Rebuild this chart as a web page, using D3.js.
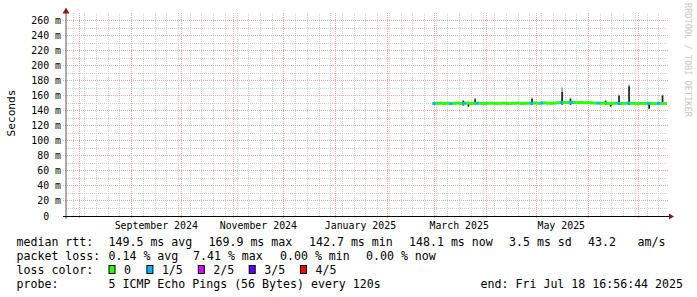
<!DOCTYPE html>
<html>
<head>
<meta charset="utf-8">
<script src="https://cdn.jsdelivr.net/npm/d3@7"></script>
<style>
body { margin: 0; background: #fff; }
svg text { font-family: "DejaVu Sans Mono", monospace; white-space: pre; fill: #000; }
</style>
</head>
<body>
<svg width="697" height="297"></svg>
<script>
// 2-day bins, 2025 (MM-DD)
const binDates = ["02-28","03-02","03-04","03-06","03-08","03-10","03-12","03-14","03-16","03-18",
  "03-20","03-22","03-24","03-26","03-28","03-30","04-01","04-03","04-05","04-07",
  "04-09","04-11","04-13","04-15","04-17","04-19","04-21","04-23","04-25","04-27",
  "04-29","05-01","05-03","05-05","05-07","05-09","05-11","05-13","05-15","05-17",
  "05-19","05-21","05-23","05-25","05-27","05-29","05-31","06-02","06-04","06-06",
  "06-08","06-10","06-12","06-14","06-16","06-18","06-20","06-22","06-24","06-26",
  "06-28","06-30","07-02","07-04","07-06","07-08","07-10","07-12","07-14","07-16"];
const medianRtt = [149.6,149.8,150.0,149.7,149.9,149.5,149.8,150.1,149.7,149.9,
  150.2,149.6,149.8,150.0,149.7,149.6,149.9,150.1,149.8,149.7,
  149.9,150.0,149.6,149.8,149.9,150.2,149.7,149.8,150.0,149.9,
  150.3,149.8,150.1,150.4,150.0,149.9,150.2,150.6,150.9,151.0,
  150.8,151.1,150.9,150.7,151.0,150.6,150.8,150.5,150.3,150.1,
  149.9,150.2,149.8,149.7,150.0,149.9,149.6,149.8,150.1,149.9,
  149.7,149.5,149.8,149.6,149.9,149.7,149.5,149.8,149.6,149.7];
// lost pings out of 5
const lossCount = [1,0,0,0,0,1,0,0,0,1, 0,0,0,1,0,0,0,0,0,0,
  0,0,0,0,0,0,0,0,0,1, 0,0,1,0,0,0,0,0,1,0,
  0,1,0,0,0,0,0,0,0,1, 0,0,0,0,0,1,0,0,1,0,
  0,0,0,0,1,0,0,1,0,0];

// smoke spikes (1-day)
const spikeDates = ["03-18","03-21","03-25","04-28","05-16","05-21","06-11","06-14","06-19","06-25","07-07","07-15"];
const spikeMax  = [154.5,150,157,157.5,171,157.5,154.5,150,161.5,175,150,161.5];
const spikeDark = [153,150,155.5,156,165,156,153,150,160,172.5,150,160];
const spikeMin  = [147,145.5,148,148,148,148,148,145.5,148,148,142.5,148];

const yTicks = [0,20,40,60,80,100,120,140,160,180,200,220,240,260];
const monthLabels = ["September 2024","November 2024","January 2025","March 2025","May 2025"];

const lossNames = ["0","1/5","2/5","3/5","4/5"];
const lossColors = ["#26ff00","#00b8ff","#dd00ff","#5e00ff","#ff0000"];
const rttStats = ["149.5 ms avg","169.9 ms max","142.7 ms min","148.1 ms now","3.5 ms sd","43.2","am/s"];
const lossStats = ["0.14 % avg","7.41 % max","0.00 % min","0.00 % now"];
const probeText = "5 ICMP Echo Pings (56 Bytes) every 120s";
const endText = "end: Fri Jul 18 16:56:44 2025";

const t0 = new Date("2024-07-23T16:56:44Z");
const t1 = new Date("2025-07-18T16:56:44Z");
const parse = s => new Date("2025-" + s + "T00:00:00Z");

const svg = d3.select("svg");
svg.append("rect").attr("width", 697).attr("height", 297).attr("fill", "#fff");

const pLeft = 66, pRight = 668, pTop = 13, pBottom = 216;
const x = d3.scaleUtc().domain([t0, t1]).range([65.4, 667.9]);
const y = d3.scaleLinear().domain([0, 270]).range([pBottom, pTop]);
const px = v => Math.round(v) + 0.5;
const py = v => Math.floor(y(v)) + 0.5;

const grid = svg.append("g").attr("fill", "none").attr("stroke-width", 1).attr("stroke-dasharray", "1,1");

// minor horizontal every 10 ms
grid.selectAll(".hmin")
    .data(d3.range(10, 270, 20))
    .join("line")
    .attr("x1", pLeft).attr("x2", pRight)
    .attr("y1", d => py(d)).attr("y2", d => py(d))
    .attr("stroke", "#d2d2d2");

// minor vertical: weeks
grid.selectAll(".vmin")
    .data(d3.utcWeek.range(t0, t1))
    .join("line")
    .attr("x1", d => px(x(d))).attr("x2", d => px(x(d)))
    .attr("y1", pTop).attr("y2", pBottom)
    .attr("stroke", "#d2d2d2");

// major horizontal
grid.selectAll(".hmaj")
    .data(yTicks.slice(1))
    .join("line")
    .attr("x1", pLeft - 3).attr("x2", pRight)
    .attr("y1", d => py(d)).attr("y2", d => py(d))
    .attr("stroke", "#eaa8a8");

// major vertical: months
grid.selectAll(".vmaj")
    .data(d3.utcMonth.range(d3.utcMonth.ceil(t0), t1))
    .join("line")
    .attr("x1", d => px(x(d))).attr("x2", d => px(x(d)))
    .attr("y1", pTop).attr("y2", pBottom + 3)
    .attr("stroke", "#eaa8a8");

// smoke spikes
const spikes = spikeDates.map((d, i) => ({
    t: parse(d), max: spikeMax[i], dark: spikeDark[i], min: spikeMin[i]
}));
svg.append("g").selectAll("rect")
    .data(spikes)
    .join("rect")
    .attr("x", d => x(d.t))
    .attr("width", d => x(d3.utcDay.offset(d.t, 1)) - x(d.t))
    .attr("y", d => y(d.max))
    .attr("height", d => y(d.dark) - y(d.max))
    .attr("fill", "#a0a0a0");
svg.append("g").selectAll("rect")
    .data(spikes)
    .join("rect")
    .attr("x", d => x(d.t))
    .attr("width", d => x(d3.utcDay.offset(d.t, 1)) - x(d.t))
    .attr("y", d => y(d.dark))
    .attr("height", d => y(d.min) - y(d.dark))
    .attr("fill", "#1a1a1a");

// median band coloured by loss
const bins = binDates.map((d, i) => ({ t: parse(d), med: medianRtt[i], loss: lossCount[i] }));
svg.append("g").selectAll("rect")
    .data(bins)
    .join("rect")
    .attr("x", d => x(d.t))
    .attr("width", d => x(d3.utcDay.offset(d.t, 2)) - x(d.t) + 0.2)
    .attr("y", d => y(d.med + 2))
    .attr("height", d => y(d.med - 2) - y(d.med + 2))
    .attr("fill", d => lossColors[d.loss]);

// axes
svg.append("line")
    .attr("x1", pLeft).attr("x2", pLeft)
    .attr("y1", pBottom + 3).attr("y2", 11)
    .attr("stroke", "#555");
svg.append("line")
    .attr("x1", pLeft - 3).attr("x2", 670)
    .attr("y1", pBottom + 0.5).attr("y2", pBottom + 0.5)
    .attr("stroke", "#000");
svg.append("path")
    .attr("d", `M${pLeft - 3.5},13.5L${pLeft},7.5L${pLeft + 3.5},13.5Z`)
    .attr("fill", "#8b1a1a");
svg.append("path")
    .attr("d", `M669,${pBottom - 2.5}L674,${pBottom + 0.5}L669,${pBottom + 3.5}Z`)
    .attr("fill", "#8b1a1a");

// y tick labels
svg.append("g").selectAll("text")
    .data(yTicks)
    .join("text")
    .attr("x", 61)
    .attr("y", d => py(d) + 3.5)
    .attr("text-anchor", "end")
    .attr("font-size", "9.9px")
    .text(d => d === 0 ? "0  " : d + " m");

// x labels centred mid-month
const labelMonths = d3.utcMonth.every(2).range(t0, t1)
    .filter(d => x(d3.utcDay.offset(d, 15)) + 40 < pRight);
svg.append("g").selectAll("text")
    .data(labelMonths)
    .join("text")
    .attr("x", d => x(d3.utcDay.offset(d, 15)))
    .attr("y", 228.5)
    .attr("text-anchor", "middle")
    .attr("font-size", "9.9px")
    .text((d, i) => monthLabels[i]);

svg.append("text")
    .attr("transform", "translate(15,113) rotate(-90)")
    .attr("text-anchor", "middle")
    .attr("font-size", "11.2px")
    .text("Seconds");

svg.append("text")
    .attr("transform", "translate(685,3) rotate(90)")
    .attr("font-size", "8.6px")
    .style("fill", "#c8c8c8")
    .text("RRDTOOL / TOBI OETIKER");

// legend
const legend = svg.append("g").attr("font-size", "11.6px");
const col = 108.5;
legend.append("text").attr("x", 16.5).attr("y", 246).text("median rtt:");
legend.selectAll(".rtt")
    .data(rttStats)
    .join("text")
    .attr("x", (d, i) => [col, 208.5, 309, 409, 509, 588, 637.5][i])
    .attr("y", 246)
    .text(d => d);

legend.append("text").attr("x", 16.5).attr("y", 260).text("packet loss:");
legend.selectAll(".pl")
    .data(lossStats)
    .join("text")
    .attr("x", (d, i) => [col, 193, 280, 366][i])
    .attr("y", 260)
    .text(d => d);

legend.append("text").attr("x", 16.5).attr("y", 274).text("loss color:");
const boxX = [col, 146.4, 197.8, 248.7, 300];
legend.selectAll(".lb")
    .data(lossNames)
    .join("rect")
    .attr("x", (d, i) => boxX[i] + 0.5)
    .attr("y", 265.5)
    .attr("width", 6)
    .attr("height", 8)
    .attr("fill", (d, i) => lossColors[i])
    .attr("stroke", "#000");
legend.selectAll(".lt")
    .data(lossNames)
    .join("text")
    .attr("x", (d, i) => boxX[i] + 15.5)
    .attr("y", 274)
    .text(d => d);

legend.append("text").attr("x", 16.5).attr("y", 288).text("probe:");
legend.append("text").attr("x", col).attr("y", 288).text(probeText);
legend.append("text").attr("x", 683).attr("y", 288).attr("text-anchor", "end").text(endText);
</script>
</body>
</html>
